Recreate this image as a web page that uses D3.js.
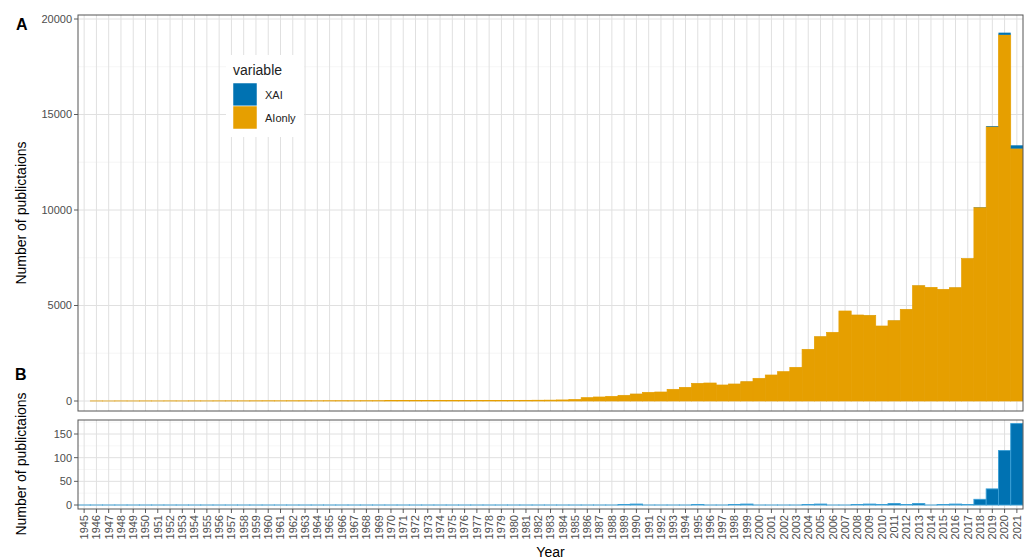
<!DOCTYPE html>
<html>
<head>
<meta charset="utf-8">
<script src="https://cdn.jsdelivr.net/npm/d3@7"></script>
<style>
  body { margin: 0; background: #fff; }
  svg { font-family: "Liberation Sans", Arial, sans-serif; }
</style>
</head>
<body>
<script>

// categories
var years = d3.range(1945, 2022);

// AI-only publications per year
var aiOnly = [
  0,
  3, 2, 4, 3, 5, 4, 6, 5, 7, 6, 8, 9, 8, 10,
  12, 11, 13, 14, 12, 15, 16, 14, 17, 18, 20, 19, 21, 22, 24, 23, 26, 28, 30, 32,
  30, 35, 40, 45, 55, 80,
  175, 210, 244, 297, 366, 454, 471, 611, 715, 925,
  942, 838, 890, 1012, 1187, 1361, 1536, 1762, 2705, 3368,
  3595, 4712, 4502, 4485, 3926, 4205, 4799, 6038, 5950, 5846,
  5933, 7455, 10130, 14360, 19170, 13215
];

// XAI publications per year
var xai = [
  0,
  0, 0, 0, 0, 0, 0, 0, 0, 0, 0, 0, 0, 0, 0,
  0, 0, 0, 0, 0, 0, 0, 0, 0, 0, 0, 0, 0, 0, 0, 0, 0, 0, 0, 0,
  0, 0, 0, 0, 0, 0,
  0, 0, 0, 1, 2, 0, 0, 0, 0, 1,
  0, 0, 1, 2, 0, 0, 0, 0, 1, 2,
  0, 0, 1, 2, 1, 3, 1, 3, 0, 1,
  2, 1, 12, 34, 115, 172
];

var keys = ["AIonly", "XAI"];
var legendKeys = ["XAI", "AIonly"];
var colors = {XAI: "#0072B2", AIonly: "#E69F00"};
var topTicks = [0, 5000, 10000, 15000, 20000];
var topMinor = [2500, 7500, 12500, 17500];
var botTicks = [0, 50, 100, 150];
var botMinor = [25, 75, 125, 175];

var rows = years.map(function(y, i) { return {year: y, AIonly: aiOnly[i], XAI: xai[i]}; });
var stacked = d3.stack().keys(keys)(rows);

var W = 1030, H = 560;
var left = 78, right = 1023;
var topPanel = {top: 15, bottom: 411};
var botPanel = {top: 420, bottom: 509};

var svg = d3.select("body").append("svg")
    .attr("width", W)
    .attr("height", H);

var x = d3.scaleBand().domain(years).range([left, right]).padding(0);
var yTop = d3.scaleLinear().domain([0, 20000]).range([401, 19]);
var yBot = d3.scaleLinear().domain([0, 150]).range([505, 434]);

function panel(p, yScale, ticks, minor, id) {
    var g = svg.append("g");
    svg.append("clipPath").attr("id", id)
      .append("rect")
        .attr("x", left).attr("y", p.top)
        .attr("width", right - left).attr("height", p.bottom - p.top);

    g.selectAll(".minor").data(minor).enter().append("line")
        .attr("x1", left).attr("x2", right)
        .attr("y1", d => yScale(d)).attr("y2", d => yScale(d))
        .attr("stroke", "#f0f0f0").attr("stroke-width", 0.6)
        .attr("clip-path", "url(#" + id + ")");
    g.selectAll(".major").data(ticks).enter().append("line")
        .attr("x1", left).attr("x2", right)
        .attr("y1", d => yScale(d)).attr("y2", d => yScale(d))
        .attr("stroke", "#e0e0e0").attr("stroke-width", 1);
    g.selectAll(".vgrid").data(years).enter().append("line")
        .attr("x1", d => x(d) + x.bandwidth() / 2).attr("x2", d => x(d) + x.bandwidth() / 2)
        .attr("y1", p.top).attr("y2", p.bottom)
        .attr("stroke", "#e0e0e0").attr("stroke-width", 1);

    // y tick marks + labels
    g.selectAll(".tk").data(ticks).enter().append("line")
        .attr("x1", left - 4).attr("x2", left)
        .attr("y1", d => yScale(d)).attr("y2", d => yScale(d))
        .attr("stroke", "#333").attr("stroke-width", 0.8);
    g.selectAll(".tl").data(ticks).enter().append("text")
        .attr("x", left - 6).attr("y", d => yScale(d))
        .attr("dy", "0.35em")
        .attr("text-anchor", "end")
        .attr("font-size", 11)
        .attr("fill", "#4d4d4d")
        .text(d => d);
    return g;
}

var gTop = panel(topPanel, yTop, topTicks, topMinor, "clipTop");
var gBot = panel(botPanel, yBot, botTicks, botMinor, "clipBot");

// stacked bars, panel A (zero-height bars still get a hairline like ggplot's outline)
gTop.append("g").attr("clip-path", "url(#clipTop)")
  .selectAll("g").data(stacked).enter().append("g")
    .attr("fill", d => colors[d.key])
    .attr("stroke", d => d.key == "AIonly" ? colors.AIonly : "none")
    .attr("stroke-width", 0.7)
  .selectAll("rect").data(d => d.filter(s => d.key == "AIonly" ? s.data.year > 1945 : s[1] > s[0])).enter().append("rect")
    .attr("x", d => x(d.data.year))
    .attr("width", x.bandwidth())
    .attr("y", d => yTop(d[1]))
    .attr("height", d => Math.max(yTop(d[0]) - yTop(d[1]), 0.01));

// XAI bars, panel B
gBot.append("g").attr("clip-path", "url(#clipBot)")
  .selectAll("rect").data(rows).enter().append("rect")
    .attr("x", d => x(d.year))
    .attr("width", x.bandwidth())
    .attr("y", d => yBot(d.XAI))
    .attr("height", d => Math.max(yBot(0) - yBot(d.XAI), 0.01))
    .attr("fill", colors.XAI)
    .attr("stroke", "#3a9fd6")
    .attr("stroke-width", 0.9);

// panel borders
[topPanel, botPanel].forEach(function(p) {
    svg.append("rect")
        .attr("x", left).attr("y", p.top)
        .attr("width", right - left).attr("height", p.bottom - p.top)
        .attr("fill", "none").attr("stroke", "#555").attr("stroke-width", 1);
});

// x axis (bottom only)
var gx = svg.append("g");
gx.selectAll("line").data(years).enter().append("line")
    .attr("x1", d => x(d) + x.bandwidth() / 2).attr("x2", d => x(d) + x.bandwidth() / 2)
    .attr("y1", botPanel.bottom).attr("y2", botPanel.bottom + 4)
    .attr("stroke", "#333").attr("stroke-width", 0.8);
gx.selectAll("text").data(years).enter().append("text")
    .attr("transform", d => "translate(" + (x(d) + x.bandwidth() / 2) + "," + (botPanel.bottom + 6) + ") rotate(-90)")
    .attr("dy", "0.35em")
    .attr("text-anchor", "end")
    .attr("font-size", 11)
    .attr("fill", "#4d4d4d")
    .text(d => d);

svg.append("text")
    .attr("x", (left + right) / 2).attr("y", 557)
    .attr("text-anchor", "middle")
    .attr("font-size", 14)
    .text("Year");

// y titles
[[topPanel, 213], [botPanel, 464]].forEach(function(a) {
    svg.append("text")
        .attr("transform", "translate(26," + a[1] + ") rotate(-90)")
        .attr("text-anchor", "middle")
        .attr("font-size", 14)
        .text("Number of publictaions");
});

// panel tags
svg.append("text").attr("x", 16).attr("y", 30)
    .attr("font-size", 16).attr("font-weight", "bold").text("A");
svg.append("text").attr("x", 15).attr("y", 380)
    .attr("font-size", 16).attr("font-weight", "bold").text("B");

// legend
var lg = svg.append("g");
lg.append("rect")
    .attr("x", 226).attr("y", 55).attr("width", 78).attr("height", 82)
    .attr("fill", "#fff");
lg.append("text").attr("x", 233).attr("y", 75)
    .attr("font-size", 14).attr("fill", "#222").text("variable");
lg.selectAll(".key").data(legendKeys).enter().append("rect")
    .attr("x", 233).attr("y", (d, i) => 83 + i * 23)
    .attr("width", 24).attr("height", 23)
    .attr("fill", d => colors[d])
    .attr("stroke", "#fff").attr("stroke-width", 0.5);
lg.selectAll(".lab").data(legendKeys).enter().append("text")
    .attr("x", 265).attr("y", (d, i) => 95 + i * 23)
    .attr("dy", "0.35em")
    .attr("font-size", 11)
    .attr("fill", "#222")
    .text(d => d);

</script>
</body>
</html>
